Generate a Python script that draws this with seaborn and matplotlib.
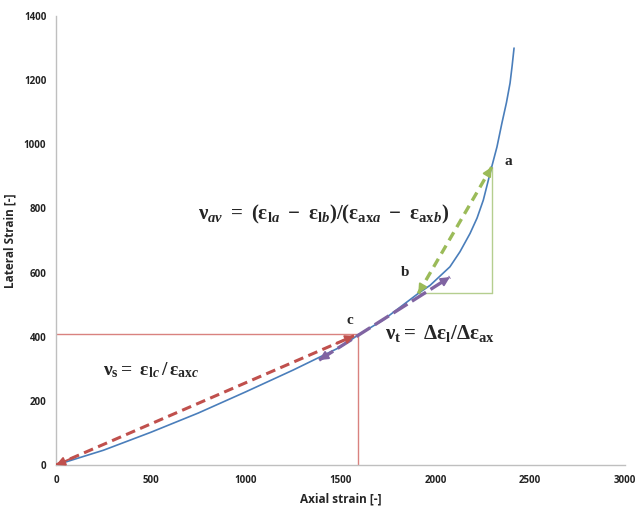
import matplotlib
matplotlib.use("Agg")
import matplotlib.pyplot as plt
import seaborn as sns
import pandas as pd

# ---- data ----
axial = [0, 250, 500, 750, 1000, 1250, 1500, 1592, 1725, 1910, 1972, 2077,
         2130, 2183, 2220, 2253, 2297, 2325, 2351, 2375, 2394, 2405, 2415]
lateral = [0, 46, 102, 162, 228, 296, 368, 405, 452, 535, 560, 618,
           665, 722, 770, 826, 929, 992, 1066, 1130, 1191, 1245, 1300]

point_names = ["a", "b", "c"]
point_x = [2297, 1910, 1592]
point_y = [929, 535, 408]

tangent_x = [1387, 2077]
tangent_y = [327, 586]

x_ticks = [0, 500, 1000, 1500, 2000, 2500, 3000]
y_ticks = [0, 200, 400, 600, 800, 1000, 1200, 1400]

df = pd.DataFrame({"Axial strain [-]": axial, "Lateral Strain [-]": lateral})

sns.set_theme(style="white")
plt.rcParams["font.family"] = ["Open Sans", "DejaVu Sans"]
plt.rcParams["mathtext.fontset"] = "custom"
plt.rcParams["mathtext.rm"] = "Liberation Serif:bold"
plt.rcParams["mathtext.bf"] = "Liberation Serif:bold"
plt.rcParams["mathtext.it"] = "Liberation Serif:italic:bold"

fig = plt.figure(figsize=(6.36, 5.07), dpi=100)
ax = fig.add_axes([56 / 636, 42 / 507, (625 - 56) / 636, (465 - 16) / 507])

RED = "#C0504D"
RED_THIN = "#D9827F"
GREEN = "#9BBB59"
GREEN_THIN = "#B5CE8F"
PURPLE = "#8064A2"
BLUE = "#4A7EBB"

ax_, bx_, cx_ = point_x
ay_, by_, cy_ = point_y

# thin guide lines
ax.plot([cx_, cx_], [0, cy_], color=RED_THIN, lw=1.0, zorder=1)
ax.plot([0, cx_], [cy_, cy_], color=RED_THIN, lw=1.0, zorder=1)
ax.plot([bx_, ax_], [by_, by_], color=GREEN_THIN, lw=1.0, zorder=1)
ax.plot([ax_, ax_], [by_, ay_], color=GREEN_THIN, lw=1.0, zorder=1)

# main curve
sns.lineplot(data=df, x="Axial strain [-]", y="Lateral Strain [-]", ax=ax,
             color=BLUE, lw=1.2, zorder=3, sort=False)


def dashed_double_arrow(x0, y0, x1, y1, color, lw, dashes, ms=13):
    ax.plot([x0, x1], [y0, y1], color=color, lw=lw, dashes=dashes,
            solid_capstyle="butt", dash_capstyle="butt", zorder=4)
    for (tx, ty), (ox, oy) in (((x1, y1), (x0, y0)), ((x0, y0), (x1, y1))):
        sx = tx + 0.06 * (ox - tx)
        sy = ty + 0.06 * (oy - ty)
        ax.annotate("", xy=(tx, ty), xytext=(sx, sy),
                    arrowprops=dict(arrowstyle="-|>", color=color, lw=lw * 0.6,
                                    mutation_scale=ms, shrinkA=0, shrinkB=0),
                    zorder=5)


# secant (red), average (green), tangent (purple)
dashed_double_arrow(0, 0, cx_ - 20, cy_ - 5, RED, 2.2, (3.2, 1.8))
dashed_double_arrow(bx_, by_, ax_, ay_, GREEN, 2.4, (2.8, 1.8))
dashed_double_arrow(tangent_x[0], tangent_y[0], tangent_x[1], tangent_y[1],
                    PURPLE, 2.4, (5, 1.6))

# labels of points
lab_kw = dict(fontsize=11, fontweight="bold", family="Liberation Serif",
              ha="center", va="center")
ax.text(2383, 945, point_names[0], **lab_kw)
ax.text(1840, 601, point_names[1], **lab_kw)
ax.text(1550, 451, point_names[2], **lab_kw)

# formulas
ax.text(750, 780,
        r"$\mathbf{\nu}_{av}\ =\ (\mathbf{\varepsilon}_{\mathrm{l}a}\ -\ \mathbf{\varepsilon}_{\mathrm{l}b})/(\mathbf{\varepsilon}_{\mathrm{ax}a}\ -\ \mathbf{\varepsilon}_{\mathrm{ax}b})$",
        fontsize=15, ha="left", va="center")
ax.text(1735, 410,
        r"$\mathbf{\nu}_{\mathrm{t}}\mathrm{=}\ \mathrm{\Delta}\mathbf{\varepsilon}_{\mathrm{l}}\mathrm{/\Delta}\mathbf{\varepsilon}_{\mathrm{ax}}$",
        fontsize=15, ha="left", va="center")
ax.text(248, 296,
        r"$\mathbf{\nu}_{\mathrm{s}}\mathrm{=}\ \mathbf{\varepsilon}_{\mathrm{l}c}\,\mathrm{/}\,\mathbf{\varepsilon}_{\mathrm{ax}c}$",
        fontsize=14, ha="left", va="center")

# axes styling
ax.set_xlim(0, 3000)
ax.set_ylim(0, 1400)
ax.set_xticks(x_ticks)
ax.set_yticks(y_ticks)
ax.set_xticklabels([str(v) for v in x_ticks], fontsize=7, fontweight="bold")
ax.set_yticklabels([str(v) for v in y_ticks], fontsize=7, fontweight="bold")
ax.tick_params(axis="both", length=0, pad=7, colors="#222222")
ax.set_xlabel("Axial strain [-]", fontsize=8.5, fontweight="bold", labelpad=5)
ax.set_ylabel("Lateral Strain [-]", fontsize=8.5, fontweight="bold", labelpad=5)
for side in ["top", "right"]:
    ax.spines[side].set_visible(False)
for side in ["left", "bottom"]:
    ax.spines[side].set_color("#BFBFBF")
    ax.spines[side].set_linewidth(1.0)

fig.savefig("out.png", dpi=100)
